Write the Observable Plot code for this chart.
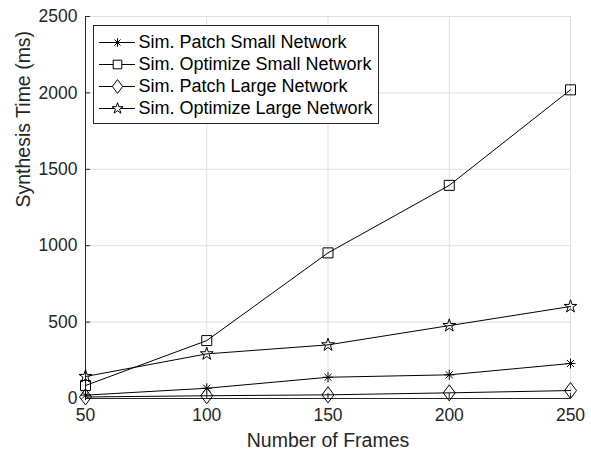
<!DOCTYPE html>
<html><head><meta charset="utf-8">
<script src="https://cdn.jsdelivr.net/npm/d3@7"></script>
<script src="https://cdn.jsdelivr.net/npm/@observablehq/plot@0.6"></script>
<style>
body{margin:0;background:#fff;}
#wrap{position:relative;width:591px;height:450px;font-family:"Liberation Sans",Arial,sans-serif;}
#legend{position:absolute;left:93px;top:25px;border:1px solid #262626;background:#fff;line-height:0;}
</style></head><body><div id="wrap"><div id="legend"></div></div>
<script>
const frames = [50, 100, 150, 200, 250];
const seriesNames = ["Sim. Patch Small Network", "Sim. Optimize Small Network", "Sim. Patch Large Network", "Sim. Optimize Large Network"];
const patchSmall = [22, 67, 139, 155, 229];
const optimizeSmall = [85, 379, 953, 1395, 2020];
const patchLarge = [10, 18, 24, 37, 52];
const optimizeLarge = [144, 292, 351, 477, 602];
const xTicks = [50, 100, 150, 200, 250];
const yTicks = [0, 500, 1000, 1500, 2000, 2500];
const xLabel = "Number of Frames";
const yLabel = "Synthesis Time (ms)";

const seriesValues = [patchSmall, optimizeSmall, patchLarge, optimizeLarge];

// MATLAB-like marker shapes
const rad = s => Math.sqrt(s / Math.PI);
const symAsterisk = {draw(c, s) { const r = rad(s), d = r * Math.SQRT1_2;
  c.moveTo(0, -r); c.lineTo(0, r); c.moveTo(-r, 0); c.lineTo(r, 0);
  c.moveTo(-d, -d); c.lineTo(d, d); c.moveTo(-d, d); c.lineTo(d, -d); }};
const symSquare = {draw(c, s) { const r = rad(s); c.rect(-r, -r, 2 * r, 2 * r); }};
const symDiamond = {draw(c, s) { const r = rad(s), w = r * 1.2, h = r * 1.6;
  c.moveTo(0, -h); c.lineTo(w, 0); c.lineTo(0, h); c.lineTo(-w, 0); c.closePath(); }};
const symStar = {draw(c, s) { const R = rad(s) * 1.35, ri = R * 0.382;
  for (let i = 0; i < 10; i++) { const a = -Math.PI / 2 + i * Math.PI / 5, rr = i % 2 ? ri : R;
    if (i) c.lineTo(rr * Math.cos(a), rr * Math.sin(a)); else c.moveTo(rr * Math.cos(a), rr * Math.sin(a)); }
  c.closePath(); }};
const symbols = [symAsterisk, symSquare, symDiamond, symStar];

const rows = seriesNames.map((name, i) => frames.map((f, j) => ({series: name, frames: f, time: seriesValues[i][j]})));

const axisColor = "#262626";
const gridColor = "#dfdfdf";

const chart = Plot.plot({
  width: 591, height: 450,
  marginLeft: 85, marginRight: 21, marginTop: 16, marginBottom: 52,
  style: {fontFamily: "'Liberation Sans', Arial, sans-serif", fontSize: "17.5px", color: axisColor, background: "white"},
  x: {domain: [50, 250]},
  y: {domain: [0, 2500]},
  marks: [
    Plot.gridX(xTicks, {stroke: gridColor, strokeOpacity: 1}),
    Plot.gridY(yTicks, {stroke: gridColor, strokeOpacity: 1}),
    Plot.axisX(xTicks, {tickSize: -5, tickPadding: 15, label: null, tickFormat: d => String(d)}),
    Plot.axisY(yTicks, {tickSize: -5, tickPadding: 13, label: null, tickFormat: d => String(d)}),
    Plot.ruleX([50], {stroke: axisColor}),
    Plot.ruleY([0], {stroke: axisColor}),
    ...rows.map(r => Plot.line(r, {x: "frames", y: "time", stroke: "black", strokeWidth: 1})),
    ...rows.map((r, i) => Plot.dot(r, {x: "frames", y: "time", r: 5, symbol: symbols[i], stroke: "black", fill: "none", strokeWidth: 1})),
    Plot.text([xLabel], {text: d => d, frameAnchor: "bottom", dy: 48, lineAnchor: "bottom", fontSize: 19.5, fill: axisColor}),
    Plot.text([yLabel], {text: d => d, frameAnchor: "left", rotate: -90, dx: -62, lineAnchor: "middle", fontSize: 19.5, fill: axisColor})
  ]
});
document.getElementById("wrap").prepend(chart);

const legend = Plot.plot({
  width: 284, height: 97,
  marginLeft: 0, marginRight: 0, marginTop: 14.7, marginBottom: 13.7,
  axis: null,
  style: {fontFamily: "'Liberation Sans', Arial, sans-serif", fontSize: "18px", color: "black", background: "white"},
  x: {type: "band", domain: ["sample"], range: [5, 41], padding: 0},
  y: {type: "point", domain: seriesNames, padding: 0},
  marks: [
    Plot.tickY(seriesNames, {y: d => d, x: () => "sample", stroke: "black", strokeWidth: 1}),
    ...seriesNames.map((n, i) => Plot.dot([n], {y: d => d, x: () => "sample", r: 4.3, symbol: symbols[i], stroke: "black", fill: "white", strokeWidth: 1})),
    Plot.text(seriesNames, {y: d => d, text: d => d, frameAnchor: "left", dx: 44, textAnchor: "start", lineAnchor: "middle", fill: "black"})
  ]
});
document.getElementById("legend").appendChild(legend);
</script></body></html>
